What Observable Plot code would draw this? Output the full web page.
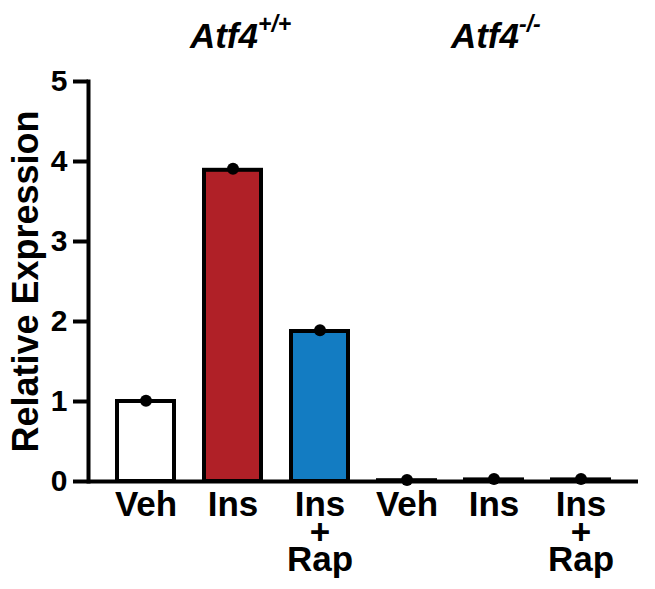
<!DOCTYPE html>
<html>
<head>
<meta charset="utf-8">
<script src="https://cdn.jsdelivr.net/npm/d3@7"></script>
<script src="https://cdn.jsdelivr.net/npm/@observablehq/plot@0.6"></script>
<style>
  html, body { margin: 0; padding: 0; background: #fff; }
  #chart svg { display: block; }
</style>
</head>
<body>
<div id="chart"></div>
<script>
const keys = ["wtVeh", "wtIns", "wtRap", "koVeh", "koIns", "koRap"];
const labels = ["Veh", "Ins", "Ins\n+\nRap", "Veh", "Ins", "Ins\n+\nRap"];
const means = [1.0, 3.89, 1.875, 0.01, 0.02, 0.02];
const points = [1.01, 3.91, 1.89, 0.02, 0.03, 0.03];
const fills = ["#ffffff", "#B02027", "#137CC2", "#ffffff", "#ffffff", "#ffffff"];
const genotypes = ["Atf4", "Atf4"];
const superscripts = ["+/+", "-/-"];
const genotypeAt = ["wtIns", "koIns"];
const yTicks = [0, 1, 2, 3, 4, 5];

const rows = keys.map((k, i) => ({key: k, label: labels[i], mean: means[i], point: points[i], fill: fills[i]}));
const heads = genotypes.map((g, i) => ({key: genotypeAt[i], name: g, sup: superscripts[i]}));

const font = "'Liberation Sans', Arial, Helvetica, sans-serif";

const chart = Plot.plot({
  width: 655,
  height: 589,
  marginLeft: 88,
  marginRight: 17,
  marginTop: 81,
  marginBottom: 108,
  style: {fontFamily: font, background: "#fff", color: "#000"},
  x: {domain: keys, paddingInner: 0.35, paddingOuter: 0.31, axis: null},
  y: {domain: [0, 5], axis: null},
  marks: [
    Plot.barY(rows, {x: "key", y: "mean", fill: "fill", stroke: "#000", strokeWidth: 4}),
    Plot.dot(rows, {x: "key", y: "point", r: 6, fill: "#000", stroke: null}),
    Plot.axisY({ticks: yTicks, tickSize: 15, tickPadding: 6, strokeWidth: 4, fontSize: 30, fontWeight: "bold", label: null, tickFormat: d3.format("d")}),
    Plot.frame({anchor: "left", strokeWidth: 4}),
    Plot.ruleY([0], {strokeWidth: 4}),
    Plot.text(rows, {x: "key", text: "label", frameAnchor: "bottom", lineAnchor: "top", dy: 15, fontSize: 35, fontWeight: "bold", lineHeight: 0.79}),
    Plot.text(["Relative Expression"], {frameAnchor: "left", textAnchor: "middle", rotate: -90, dx: -62, dy: 0, fontSize: 36, fontWeight: "bold", lineAnchor: "middle"}),
    Plot.text(heads, {x: "key", text: "name", frameAnchor: "top", lineAnchor: "bottom", textAnchor: "end", dx: 25, dy: -34, fontSize: 35, fontWeight: "bold", fontStyle: "italic"}),
    Plot.text(heads, {x: "key", text: "sup", frameAnchor: "top", lineAnchor: "bottom", textAnchor: "start", dx: 25, dy: -50, fontSize: 23, fontWeight: "bold", fontStyle: "italic"})
  ]
});
document.getElementById("chart").append(chart);
</script>
</body>
</html>
